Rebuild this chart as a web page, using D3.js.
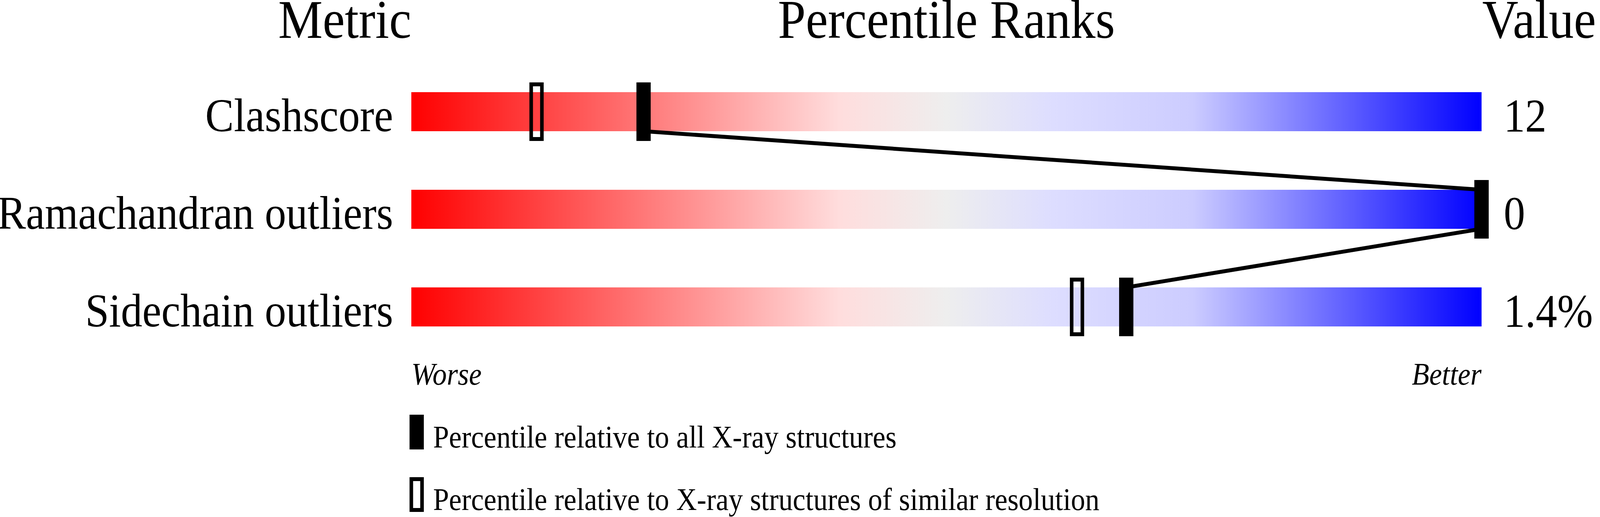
<!DOCTYPE html>
<html>
<head>
<meta charset="utf-8">
<script src="https://cdn.jsdelivr.net/npm/d3@7"></script>
<style>
	html, body { margin: 0; padding: 0; background: #fff; overflow: hidden; }
	svg { display: block; width: 100vw; height: 100vh; font-family: "Liberation Serif", "Times New Roman", serif; }
</style>
</head>
<body>
<svg id="chart" viewBox="0 0 4485 1324" preserveAspectRatio="none"></svg>
<script>
// data
const metrics = ["Clashscore", "Ramachandran outliers", "Sidechain outliers"];
const values = ["12", "0", "1.4%"];
const pctAll = [21.7, 100, 66.8];       // relative to all X-ray structures
const pctSimilar = [11.7, 100, 62.2];   // relative to similar resolution
const legendLabels = [
	"Percentile relative to all X-ray structures",
	"Percentile relative to X-ray structures of similar resolution"
];

const svg = d3.select("#chart");

const barLeft = 1153, barRight = 4153;
const barH = 100, markH = 150;

const x = d3.scaleLinear().domain([0, 100]).range([barLeft, barRight]);
const y = d3.scalePoint().domain(metrics).range([286, 786]); // bar centres

// gradient red -> grey -> blue
const grad = svg.append("defs").append("linearGradient").attr("id", "slider");
[[0, "#ff0000"], [0.4, "#ffdddd"], [0.5, "#eeeeee"], [0.6, "#ddddff"], [0.73, "#ccccff"], [1, "#0000ff"]]
	.forEach(([o, c]) => grad.append("stop").attr("offset", o).attr("stop-color", c));

// headers
const head = svg.append("g").attr("font-size", 140).attr("fill", "#000");
head.append("text").attr("x", barLeft).attr("y", 97).attr("text-anchor", "end").text("Metric");
head.append("text").attr("x", (barLeft + barRight) / 2).attr("y", 97).attr("text-anchor", "middle").text("Percentile Ranks");
head.append("text").attr("x", barRight + 2).attr("y", 97).text("Value");

// bars
svg.selectAll(".bar")
	.data(metrics)
	.join("rect")
	.attr("class", "bar")
	.attr("x", barLeft)
	.attr("y", d => y(d) - barH / 2)
	.attr("width", barRight - barLeft)
	.attr("height", barH)
	.attr("fill", "url(#slider)");

// row labels and values
svg.selectAll(".label")
	.data(metrics)
	.join("text")
	.attr("class", "label")
	.attr("x", 1102)
	.attr("y", d => y(d) + barH / 2)
	.attr("text-anchor", "end")
	.attr("font-size", 120)
	.text(d => d);

svg.selectAll(".value")
	.data(values)
	.join("text")
	.attr("class", "value")
	.attr("x", 4215)
	.attr("y", (d, i) => y(metrics[i]) + barH / 2 + 1)
	.attr("font-size", 120)
	.text(d => d);

// connecting line between the "all" markers
const links = d3.range(metrics.length - 1).map(i => [
	[x(pctAll[i]), y(metrics[i]) + barH / 2],
	[x(pctAll[i + 1]), y(metrics[i + 1]) - barH / 2]
]);
svg.selectAll(".link")
	.data(links)
	.join("path")
	.attr("class", "link")
	.attr("fill", "none")
	.attr("stroke", "#000")
	.attr("stroke-width", 10)
	.attr("d", d => d3.line()(d));

// open markers (similar resolution)
svg.selectAll(".mark-sim")
	.data(pctSimilar)
	.join("rect")
	.attr("class", "mark-sim")
	.attr("x", d => x(d) - 15)
	.attr("y", (d, i) => y(metrics[i]) - markH / 2 + 5)
	.attr("width", 30)
	.attr("height", markH - 10)
	.attr("fill", "none")
	.attr("stroke", "#000")
	.attr("stroke-width", 10);

// filled markers (all structures)
svg.selectAll(".mark-all")
	.data(pctAll)
	.join("rect")
	.attr("class", "mark-all")
	.attr("x", d => x(d) - 20)
	.attr("y", (d, i) => y(metrics[i]) - markH / 2)
	.attr("width", 40)
	.attr("height", markH)
	.attr("fill", "#000");

// worse / better
svg.append("text").attr("x", barLeft).attr("y", 985)
	.attr("font-size", 80).attr("font-style", "italic").text("Worse");
svg.append("text").attr("x", barRight).attr("y", 985)
	.attr("font-size", 80).attr("font-style", "italic").attr("text-anchor", "end").text("Better");

// legend
const leg = svg.append("g").attr("class", "legend");
leg.append("rect").attr("x", 1148).attr("y", 1062).attr("width", 40).attr("height", 89).attr("fill", "#000");
leg.append("rect").attr("x", 1153).attr("y", 1227).attr("width", 30).attr("height", 79)
	.attr("fill", "none").attr("stroke", "#000").attr("stroke-width", 10);
leg.selectAll("text")
	.data(legendLabels)
	.join("text")
	.attr("x", 1214)
	.attr("y", (d, i) => 1146 + i * 160)
	.attr("font-size", 80)
	.text(d => d);
</script>
</body>
</html>
